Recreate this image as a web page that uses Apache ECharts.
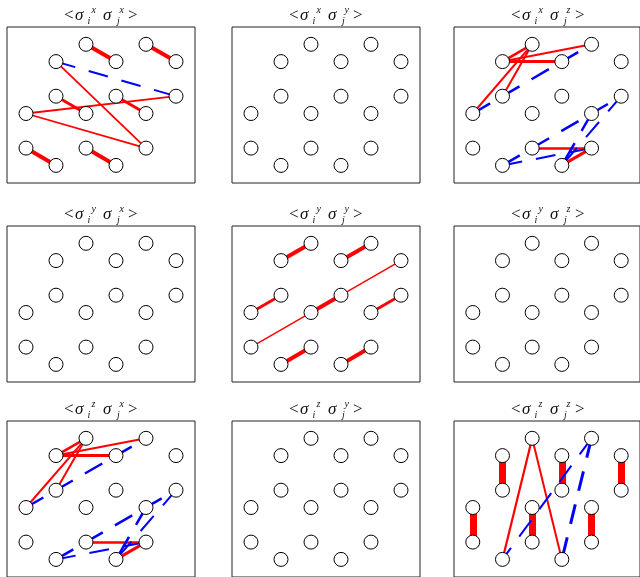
<!DOCTYPE html>
<html>
<head>
<meta charset="utf-8">
<script src="https://cdn.jsdelivr.net/npm/echarts@6/dist/echarts.min.js"></script>
<style>
html,body{margin:0;padding:0;background:#fff;}
#c{width:640px;height:577px;}
</style>
</head>
<body>
<div id="c"></div>
<script>
// lattice sites (column index, row index) of the 16-site honeycomb cluster
const nodeCol = [2,4,1,3,5,1,3,5,0,2,4,0,2,4,1,3];
const nodeRow = [0,0,1,1,1,3,3,3,4,4,4,6,6,6,7,7];

// panel labels: <sigma_i^a sigma_j^b>
const spinA = ['x','x','x','y','y','y','z','z','z'];
const spinB = ['x','y','z','x','y','z','x','y','z'];

// correlations [site i, site j, value]; sign -> red(+)/blue(-), magnitude -> width
const corrXX = [[0,3,0.4],[1,4,0.4],[5,9,0.3],[6,10,0.3],[11,14,0.4],[12,15,0.4],[2,13,0.18],[8,7,0.18],[8,13,0.18],[2,7,-0.2]];
const corrXY = [];
const corrXZ = [[2,0,0.25],[2,1,0.2],[2,3,0.3],[0,5,0.2],[0,8,0.2],[12,13,0.25],[15,13,0.3],[8,1,-0.25],[14,7,-0.25],[14,13,-0.2],[7,15,-0.2],[10,15,-0.25]];
const corrYX = [];
const corrYY = [[2,0,0.4],[3,1,0.4],[8,5,0.3],[9,6,0.4],[10,7,0.3],[14,12,0.4],[15,13,0.4],[11,4,0.15]];
const corrYZ = [];
const corrZX = [[2,0,0.25],[2,1,0.2],[2,3,0.3],[0,5,0.2],[0,8,0.2],[12,13,0.25],[15,13,0.3],[8,1,-0.25],[14,7,-0.25],[14,13,-0.2],[7,15,-0.2],[10,15,-0.25]];
const corrZY = [];
const corrZZ = [[2,5,0.7],[3,6,0.7],[4,7,0.7],[8,11,0.7],[9,12,0.7],[10,13,0.7],[0,14,0.22],[0,15,0.2],[1,14,-0.2],[1,15,-0.3]];

const panels = [corrXX,corrXY,corrXZ,corrYX,corrYY,corrYZ,corrZX,corrZY,corrZZ];

// layout
const colLeft = [7, 232, 454];
const rowTop = [27, 226, 421];
const boxW = 188, boxH = 156;
const pxCol = 30, pxRow = 17.3, offX = 19, offY = 17.3;

const chart = echarts.init(document.getElementById('c'), null, {renderer:'canvas'});
const grids = [], xAxes = [], yAxes = [], series = [], graphics = [];

const serif = '"Liberation Serif","DejaVu Serif",serif';
function txt(x, y, s, size, italic) {
  graphics.push({
    type:'text', x:x, y:y, silent:true,
    style:{text:s, font:(italic?'italic ':'')+size+'px '+serif, fill:'#111',
      textAlign:'left', textVerticalAlign:'middle', verticalAlign:'middle'}
  });
}

panels.forEach((edges, k) => {
  const r = Math.floor(k/3), c = k%3;
  const L = colLeft[c], T = rowTop[r];
  grids.push({left:L, top:T, width:boxW, height:boxH, show:true,
    borderColor:'#222', borderWidth:1, backgroundColor:'transparent', containLabel:false});
  xAxes.push({type:'value', gridIndex:k, show:false,
    min:-offX/pxCol, max:(boxW-offX)/pxCol});
  yAxes.push({type:'value', gridIndex:k, show:false, inverse:true,
    min:-offY/pxRow, max:(boxH-offY)/pxRow});
  series.push({
    type:'graph', coordinateSystem:'cartesian2d', xAxisIndex:k, yAxisIndex:k,
    layout:'none', symbol:'circle', symbolSize:14, silent:true,
    edgeSymbol:['none','none'],
    itemStyle:{color:'#fff', borderColor:'#000', borderWidth:1},
    label:{show:false},
    emphasis:{disabled:true},
    data: nodeCol.map((cc,i)=>({name:'n'+i, value:[cc, nodeRow[i]]})),
    links: edges.map(e => {
      const v = e[2];
      return {source:e[0], target:e[1],
        lineStyle:{color: v>0 ? '#ff0000' : '#0000ff', width: Math.abs(v)*10,
          type: v>0 ? 'solid' : [20,14], opacity:1, curveness:0, cap:'butt'}};
    })
  });
  // title  <σ_i^a σ_j^b>
  const cx = L + boxW/2;
  const base = T - 5.7 - 5.8, sup = T - 13.4 - 3.4, sub = T - 2.7 - 3.4;
  txt(cx-37, base, '<', 17, false);
  txt(cx-26, base, 'σ', 17, true);
  txt(cx-13.5, sub, 'i', 10, true);
  txt(cx-9.5, sup, spinA[k], 10, true);
  txt(cx+2, base, 'σ', 17, true);
  txt(cx+16, sub, 'j', 10, true);
  txt(cx+18.5, sup, spinB[k], 10, true);
  txt(cx+27, base, '>', 17, false);
});

chart.setOption({
  animation:false,
  backgroundColor:'#fff',
  grid:grids, xAxis:xAxes, yAxis:yAxes, series:series, graphic:graphics
});
</script>
</body>
</html>
